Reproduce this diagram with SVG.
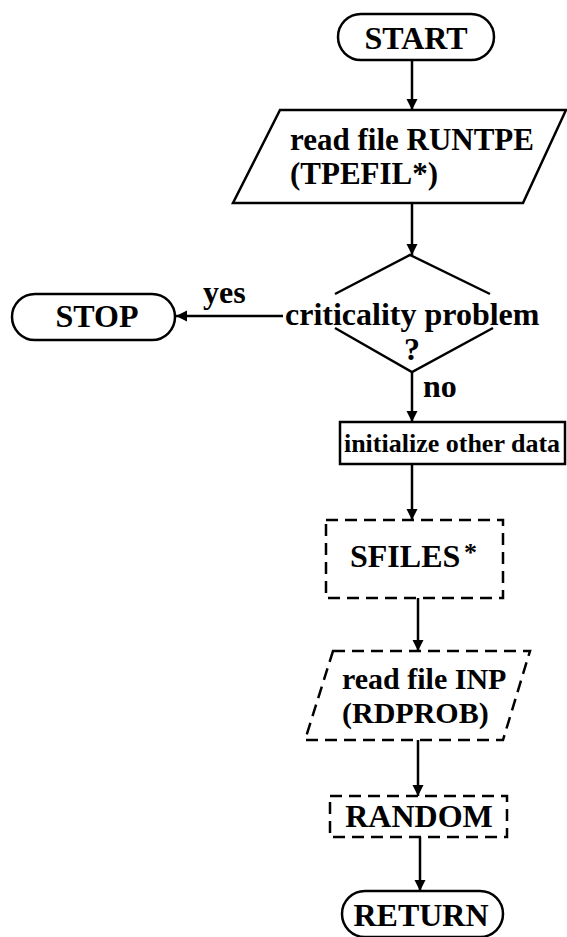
<svg xmlns="http://www.w3.org/2000/svg" width="567" height="937" viewBox="0 0 567 937">
<defs>
<marker id="ah" markerWidth="12" markerHeight="16" refX="11" refY="8" orient="auto" markerUnits="userSpaceOnUse">
<path d="M0,2.5 L11,8 L0,13.5 Z" fill="#000"/>
</marker>
<style>
.s{fill:#fff;stroke:#000;stroke-width:2.5}
.d{fill:#fff;stroke:#000;stroke-width:2.5;stroke-dasharray:12 7}
.t{font-family:"Liberation Serif","Times New Roman",serif;font-weight:bold;font-size:32px;fill:#000}
.c{stroke:#000;stroke-width:2.5;fill:none}
</style>
</defs>
<rect width="567" height="937" fill="#fff"/>
<g id="connectors">
<line class="c" x1="412" y1="60" x2="412" y2="110" marker-end="url(#ah)"/>
<line class="c" x1="412" y1="203" x2="412" y2="255" marker-end="url(#ah)"/>
<line class="c" x1="283" y1="316" x2="176" y2="316" marker-end="url(#ah)"/>
<line class="c" x1="412" y1="372" x2="412" y2="422" marker-end="url(#ah)"/>
<line class="c" x1="412" y1="464" x2="412" y2="520" marker-end="url(#ah)"/>
<line class="c" x1="418" y1="598" x2="418" y2="651" marker-end="url(#ah)"/>
<line class="c" x1="418" y1="740" x2="418" y2="796" marker-end="url(#ah)"/>
<line class="c" x1="420" y1="837" x2="420" y2="891" marker-end="url(#ah)"/>
<text class="t" x="203" y="303">yes</text>
<text class="t" x="423" y="397">no</text>
</g>
<g id="start">
<rect class="s" x="338" y="14" width="156" height="46" rx="23"/>
<text class="t" x="416" y="49" text-anchor="middle">START</text>
</g>
<g id="read-runtpe">
<polygon class="s" points="280,110 566,110 523,203 233,203"/>
<text class="t" x="290" y="150" style="font-size:31px">read file RUNTPE</text>
<text class="t" x="290" y="184" style="font-size:31px">(TPEFIL*)</text>
</g>
<g id="criticality">
<path class="c" d="M335,294 L410,255 L490,294 M335,328 L412,372 L493,328"/>
<text class="t" x="285" y="325">criticality problem</text>
<text class="t" x="412" y="360" text-anchor="middle">?</text>
</g>
<g id="stop">
<rect class="s" x="12" y="294" width="163" height="46" rx="23"/>
<text class="t" x="97" y="327" text-anchor="middle">STOP</text>
</g>
<g id="init">
<rect class="s" x="340" y="422" width="225" height="42"/>
<text class="t" x="452" y="452" text-anchor="middle" style="font-size:26px">initialize other data</text>
</g>
<g id="sfiles">
<rect class="d" x="326" y="520" width="177" height="78"/>
<text class="t" x="350" y="567">SFILES</text>
<text class="t" x="464" y="561" style="font-size:26px">*</text>
</g>
<g id="read-inp">
<polygon class="d" points="333,651 530,651 503,740 305,740"/>
<text class="t" x="342" y="689" style="font-size:30px">read file INP</text>
<text class="t" x="342" y="723" style="font-size:30px">(RDPROB)</text>
</g>
<g id="random">
<rect class="d" x="330" y="796" width="177" height="41"/>
<text class="t" x="419" y="827" text-anchor="middle">RANDOM</text>
</g>
<g id="return">
<rect class="s" x="342" y="891" width="161" height="46" rx="23"/>
<text class="t" x="421" y="926" text-anchor="middle">RETURN</text>
</g>
</svg>
